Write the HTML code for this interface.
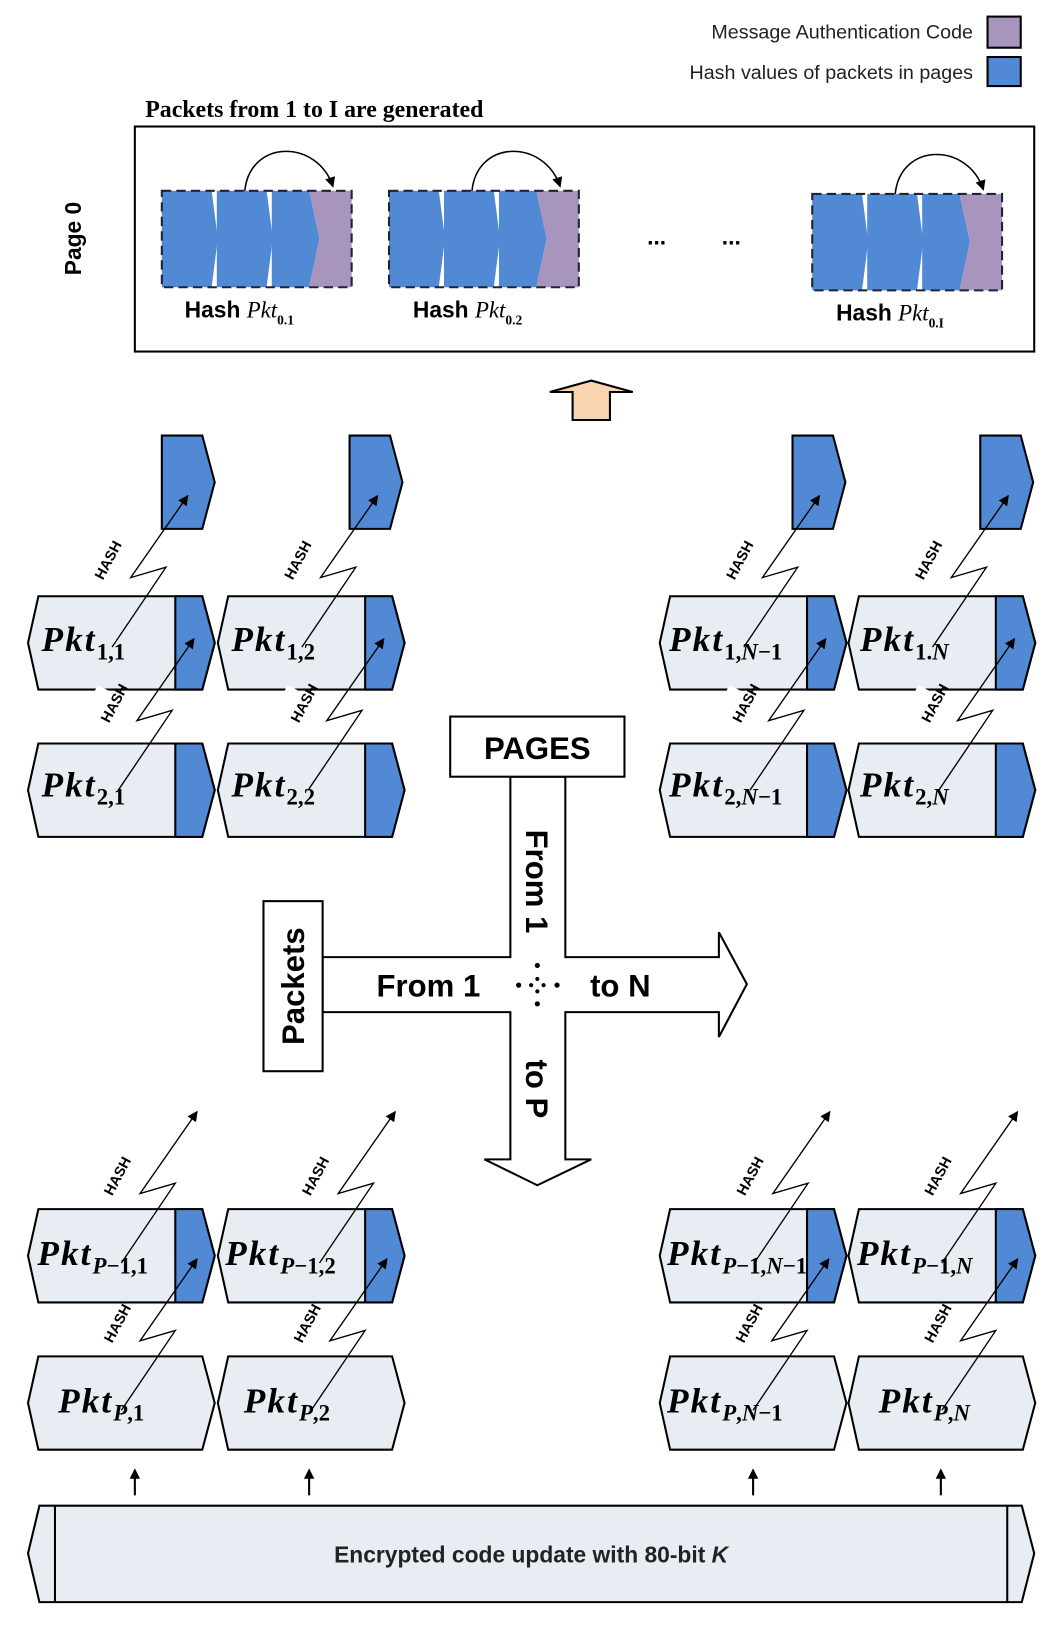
<!DOCTYPE html>
<html><head><meta charset="utf-8"><style>
html,body{margin:0;padding:0;background:#fff}
svg{display:block}
.s{font-family:"Liberation Sans",sans-serif}
.pk{font-family:"Liberation Serif",serif;font-weight:bold;font-style:italic;font-size:34px;letter-spacing:2px}
.sb{font-family:"Liberation Serif",serif;font-weight:bold;font-style:normal;font-size:22px;letter-spacing:0}
.hs{font-family:"Liberation Sans",sans-serif;font-weight:bold;font-size:14px}
</style></head><body>
<svg width="1056" height="1626" viewBox="0 0 1018 1568" preserveAspectRatio="none" xmlns="http://www.w3.org/2000/svg">
<defs>
<marker id="ah" markerWidth="10" markerHeight="10" refX="9" refY="5" orient="auto" markerUnits="userSpaceOnUse"><path d="M0,0 L10,5 L0,10 z" fill="#000"/></marker>
<g id="pkB"><polygon points="10,0 168,0 180,45 168,90 10,90 0,45" fill="#e8edf4" stroke="#000" stroke-width="2"/><polygon points="142,0 168,0 180,45 168,90 142,90" fill="#5189d4" stroke="#000" stroke-width="2"/></g>
<g id="pkW"><polygon points="10,0 168,0 180,45 168,90 10,90 0,45" fill="#e8edf4" stroke="#000" stroke-width="2"/></g>
<g id="tb"><polygon points="0,0 39,0 51,45 39,90 0,90" fill="#5189d4" stroke="#000" stroke-width="2"/></g>
<g id="zz"><path d="M0,0 L52,-77 L18,-67 L73,-146" fill="none" stroke="#000" stroke-width="1.3" marker-end="url(#ah)"/><rect x="-12" y="-106" width="16" height="44" fill="#fff" transform="rotate(-62 -4 -84)"/><text class="hs" x="-4" y="-79" text-anchor="middle" transform="rotate(-62 -4 -84)">HASH</text></g>
<g id="grp"><polygon points="0,0 48,0 54,46 48,93 0,93" fill="#5189d4"/><polygon points="53,0 101,0 107,46 101,93 53,93" fill="#5189d4"/><polygon points="106,0 142,0 152,46 142,93 106,93" fill="#5189d4"/><polygon points="142,0 183,0 183,93 142,93 152,46" fill="#a895bd"/><rect x="0" y="0" width="183" height="93" fill="none" stroke="#223" stroke-width="2" stroke-dasharray="9,5"/><path d="M80,0 C85,-50 150,-50 165,-4" fill="none" stroke="#000" stroke-width="1.5" marker-end="url(#ah)"/></g>
</defs>

<text class="s" x="938" y="37" font-size="19" text-anchor="end" fill="#222">Message Authentication Code</text>
<rect x="952" y="16" width="32" height="30" fill="#a895bd" stroke="#000" stroke-width="2"/>
<text class="s" x="938" y="76" font-size="19" text-anchor="end" fill="#222">Hash values of packets in pages</text>
<rect x="952" y="55" width="32" height="28" fill="#5189d4" stroke="#000" stroke-width="2"/>

<text x="140" y="113" font-family="Liberation Serif,serif" font-weight="bold" font-size="23">Packets from 1 to I are generated</text>
<rect x="130" y="122" width="867" height="217" fill="none" stroke="#000" stroke-width="2"/>
<text class="s" font-weight="bold" font-size="22" transform="translate(78,230) rotate(-90)" text-anchor="middle">Page 0</text>

<use href="#grp" x="156" y="184"/>
<use href="#grp" x="375" y="184"/>
<use href="#grp" x="783" y="187"/>
<text class="s" x="633" y="236" font-size="22" font-weight="bold" text-anchor="middle">...</text>
<text class="s" x="705" y="236" font-size="22" font-weight="bold" text-anchor="middle">...</text>
<g class="s" font-size="22" font-weight="bold">
<text x="178" y="306">Hash <tspan font-family="Liberation Serif,serif" font-style="italic" font-weight="normal">Pkt</tspan><tspan font-size="13" dy="7" font-family="Liberation Serif,serif">0.1</tspan></text>
<text x="398" y="306">Hash <tspan font-family="Liberation Serif,serif" font-style="italic" font-weight="normal">Pkt</tspan><tspan font-size="13" dy="7" font-family="Liberation Serif,serif">0.2</tspan></text>
<text x="806" y="309">Hash <tspan font-family="Liberation Serif,serif" font-style="italic" font-weight="normal">Pkt</tspan><tspan font-size="13" dy="7" font-family="Liberation Serif,serif">0.I</tspan></text>
</g>

<polygon points="552,405 552,378 530,378 570,367 610,378 588,378 588,405" fill="#fad3b0" stroke="#000" stroke-width="2"/>

<use href="#tb" x="156" y="420"/><use href="#tb" x="337" y="420"/><use href="#tb" x="764" y="420"/><use href="#tb" x="945" y="420"/>

<use href="#pkB" x="27" y="575"/><use href="#pkB" x="210" y="575"/><use href="#pkB" x="636" y="575"/><use href="#pkB" x="818" y="575"/>
<use href="#pkB" x="27" y="717"/><use href="#pkB" x="210" y="717"/><use href="#pkB" x="636" y="717"/><use href="#pkB" x="818" y="717"/>
<use href="#pkB" x="27" y="1166"/><use href="#pkB" x="210" y="1166"/><use href="#pkB" x="636" y="1166"/><use href="#pkB" x="818" y="1166"/>
<use href="#pkW" x="27" y="1308"/><use href="#pkW" x="210" y="1308"/><use href="#pkW" x="636" y="1308"/><use href="#pkW" x="818" y="1308"/>

<text class="pk" x="40" y="628">Pkt<tspan class="sb" dy="8">1,1</tspan></text>
<text class="pk" x="223" y="628">Pkt<tspan class="sb" dy="8">1,2</tspan></text>
<text class="pk" x="645" y="628">Pkt<tspan class="sb" dy="8">1,<tspan font-style="italic">N</tspan>−1</tspan></text>
<text class="pk" x="829" y="628">Pkt<tspan class="sb" dy="8">1.<tspan font-style="italic">N</tspan></tspan></text>
<text class="pk" x="40" y="768">Pkt<tspan class="sb" dy="8">2,1</tspan></text>
<text class="pk" x="223" y="768">Pkt<tspan class="sb" dy="8">2,2</tspan></text>
<text class="pk" x="645" y="768">Pkt<tspan class="sb" dy="8">2,<tspan font-style="italic">N</tspan>−1</tspan></text>
<text class="pk" x="829" y="768">Pkt<tspan class="sb" dy="8">2,<tspan font-style="italic">N</tspan></tspan></text>
<text class="pk" x="36" y="1220" font-size="32" letter-spacing="1">Pkt<tspan class="sb" dy="8"><tspan font-style="italic">P</tspan>−1,1</tspan></text>
<text class="pk" x="217" y="1220" font-size="32" letter-spacing="1">Pkt<tspan class="sb" dy="8"><tspan font-style="italic">P</tspan>−1,2</tspan></text>
<text class="pk" x="643" y="1220" font-size="30" letter-spacing="0">Pkt<tspan class="sb" dy="8" font-size="19"><tspan font-style="italic">P</tspan>−1,<tspan font-style="italic">N</tspan>−1</tspan></text>
<text class="pk" x="826" y="1220" font-size="32" letter-spacing="1">Pkt<tspan class="sb" dy="8" font-size="20"><tspan font-style="italic">P</tspan>−1,<tspan font-style="italic">N</tspan></tspan></text>
<text class="pk" x="56" y="1362">Pkt<tspan class="sb" dy="8"><tspan font-style="italic">P</tspan>,1</tspan></text>
<text class="pk" x="235" y="1362">Pkt<tspan class="sb" dy="8"><tspan font-style="italic">P</tspan>,2</tspan></text>
<text class="pk" x="643" y="1362">Pkt<tspan class="sb" dy="8"><tspan font-style="italic">P</tspan>,<tspan font-style="italic">N</tspan>−1</tspan></text>
<text class="pk" x="847" y="1362">Pkt<tspan class="sb" dy="8"><tspan font-style="italic">P</tspan>,<tspan font-style="italic">N</tspan></tspan></text>

<use href="#zz" x="108" y="624"/><use href="#zz" x="291" y="624"/><use href="#zz" x="717" y="624"/><use href="#zz" x="899" y="624"/>
<use href="#zz" x="114" y="762"/><use href="#zz" x="297" y="762"/><use href="#zz" x="723" y="762"/><use href="#zz" x="905" y="762"/>
<use href="#zz" x="117" y="1218"/><use href="#zz" x="308" y="1218"/><use href="#zz" x="727" y="1218"/><use href="#zz" x="908" y="1218"/>
<use href="#zz" x="117" y="1360"/><use href="#zz" x="300" y="1360"/><use href="#zz" x="726" y="1360"/><use href="#zz" x="908" y="1360"/>

<polygon points="311,923 492,923 492,749 545,749 545,923 693,923 693,899 720,949 693,1000 693,976 545,976 545,1118 570,1118 518,1143 467,1118 492,1118 492,976 311,976" fill="#fff" stroke="#000" stroke-width="2"/>
<rect x="434" y="691" width="168" height="58" fill="#fff" stroke="#000" stroke-width="2"/>
<text class="s" x="518" y="732" font-size="30" font-weight="bold" text-anchor="middle">PAGES</text>
<rect x="254" y="869" width="57" height="164" fill="#fff" stroke="#000" stroke-width="2"/>
<text class="s" font-size="30" font-weight="bold" text-anchor="middle" transform="translate(293,951) rotate(-90)">Packets</text>
<text class="s" x="413" y="961" font-size="30" font-weight="bold" text-anchor="middle">From 1</text>
<text class="s" x="598" y="961" font-size="30" font-weight="bold" text-anchor="middle">to N</text>
<text class="s" font-size="30" font-weight="bold" text-anchor="middle" transform="translate(507,850) rotate(90)">From 1</text>
<text class="s" font-size="30" font-weight="bold" text-anchor="middle" transform="translate(507,1050) rotate(90)">to P</text>
<g fill="#000"><circle cx="500" cy="950" r="2.5"/><circle cx="537" cy="950" r="2.5"/><circle cx="518" cy="931" r="2.5"/><circle cx="518" cy="968" r="2.5"/><circle cx="512" cy="950" r="2"/><circle cx="524" cy="950" r="2"/><circle cx="518" cy="944" r="2"/><circle cx="518" cy="956" r="2"/></g>

<g stroke="#000" stroke-width="2"><line x1="130" y1="1442" x2="130" y2="1424"/><line x1="298" y1="1442" x2="298" y2="1424"/><line x1="726" y1="1442" x2="726" y2="1424"/><line x1="907" y1="1442" x2="907" y2="1424"/></g>
<g fill="#000"><path d="M125,1426 L130,1416 L135,1426z"/><path d="M293,1426 L298,1416 L303,1426z"/><path d="M721,1426 L726,1416 L731,1426z"/><path d="M902,1426 L907,1416 L912,1426z"/></g>

<polygon points="38,1452 985,1452 997,1498 985,1545 38,1545 27,1498" fill="#e8edf4" stroke="#000" stroke-width="2"/>
<line x1="53" y1="1452" x2="53" y2="1545" stroke="#000" stroke-width="2"/>
<line x1="971" y1="1452" x2="971" y2="1545" stroke="#000" stroke-width="2"/>
<text class="s" x="512" y="1507" font-size="22" font-weight="bold" text-anchor="middle" fill="#222">Encrypted code update with 80-bit <tspan font-style="italic">K</tspan></text>
</svg>
</body></html>
